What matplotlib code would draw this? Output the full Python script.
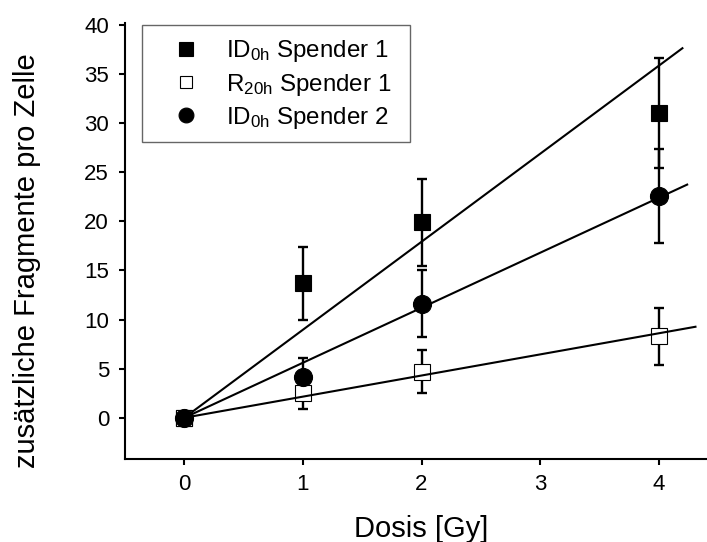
import numpy as np
import matplotlib
matplotlib.use('Agg')
import matplotlib.pyplot as plt
from matplotlib.patches import Rectangle

# Werte
dose = [0, 1, 2, 4]

id0h_s1 = [0, 13.7, 19.9, 31.0]
id0h_s1_err = [0, 3.7, 4.4, 5.6]

r20h_s1 = [0, 2.5, 4.7, 8.3]
r20h_s1_err = [0, 1.6, 2.2, 2.9]

id0h_s2 = [0, 4.1, 11.6, 22.6]
id0h_s2_err = [0, 2.0, 3.4, 4.8]

# lineare Fits durch den Ursprung: Steigung und Endpunkt
fit_slope = [8.96, 2.15, 5.6]
fit_end = [4.2, 4.31, 4.24]

plt.rcParams['font.family'] = 'Liberation Sans'
plt.rcParams['mathtext.fontset'] = 'custom'
plt.rcParams['mathtext.rm'] = 'Liberation Sans'
plt.rcParams['mathtext.it'] = 'Liberation Sans'

W, H = 707, 542
fig = plt.figure(figsize=(W / 100, H / 100), dpi=100)
ax = fig.add_axes([125 / W, 83.5 / H, 593 / W, 435.5 / H])

series = [
    (id0h_s1, id0h_s1_err, 's', 'black', 11.5, r'ID$_{\mathrm{0h}}$ Spender 1'),
    (r20h_s1, r20h_s1_err, 's', 'white', 11, r'R$_{\mathrm{20h}}$ Spender 1'),
    (id0h_s2, id0h_s2_err, 'o', 'black', 13, r'ID$_{\mathrm{0h}}$ Spender 2'),
]

for vals, err, m, fc, ms, lab in series:
    ax.errorbar(dose, vals, yerr=err, fmt='none', ecolor='black',
                elinewidth=1.7, capsize=3.6, capthick=1.7, zorder=2)
    ax.plot(dose, vals, linestyle='none', marker=m, markersize=ms,
            markerfacecolor=fc, markeredgecolor='black', markeredgewidth=0.8,
            label=lab, zorder=3)

for k, e in zip(fit_slope, fit_end):
    xs = np.array([0, e])
    ax.plot(xs, k * xs, color='black', linewidth=1.5, zorder=4)

ax.set_xlim(-0.5, 4.5)
ax.set_ylim(-4.15, 40.2)
ax.set_xticks([0, 1, 2, 3, 4])
ax.set_yticks(range(0, 41, 5))

for s in ['top', 'right']:
    ax.spines[s].set_visible(False)
for s in ['left', 'bottom']:
    ax.spines[s].set_linewidth(1.5)

ax.tick_params(direction='out', length=4.5, width=1.5, labelsize=16, pad=7)
ax.set_xlabel('Dosis [Gy]', fontsize=21, labelpad=14)
ax.set_ylabel('zusätzliche Fragmente pro Zelle', fontsize=21)
ax.yaxis.set_label_coords(-0.142, 0.455)

# Legende ohne eigenen Rahmen, Rahmen separat gezeichnet
leg = ax.legend(loc='upper left', bbox_to_anchor=(141.7 / W, 1 - 25 / H),
                bbox_transform=fig.transFigure, borderaxespad=0,
                frameon=False, fontsize=17.4, markerscale=0.82,
                handlelength=2.6, handletextpad=0.35, labelspacing=0.3,
                borderpad=0.55)
fig.patches.append(Rectangle((141.7 / W, 1 - 141.7 / H),
                             (410 - 141.7) / W, (141.7 - 25) / H,
                             transform=fig.transFigure, fill=False,
                             edgecolor='#666666', linewidth=1.0))

fig.savefig('out.png', dpi=100)
